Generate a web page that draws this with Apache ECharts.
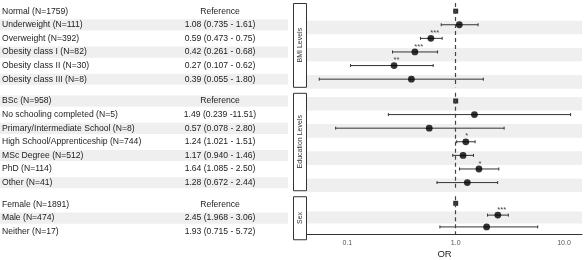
<!DOCTYPE html>
<html>
<head>
<meta charset="utf-8">
<script src="https://cdn.jsdelivr.net/npm/echarts@6/dist/echarts.min.js"></script>
<style>
  html, body { margin: 0; padding: 0; background: #fff; }
  #chart { width: 584px; height: 260px; }
</style>
</head>
<body>
<div id="chart"></div>
<script>
// === DATA ===
const panelNames = ['BMI Levels', 'Education Levels', 'Sex'];

const bmiLabels = ['Normal (N=1759)', 'Underweight (N=111)', 'Overweight (N=392)',
  'Obesity class I (N=82)', 'Obesity class II (N=30)', 'Obesity class III (N=8)'];
const bmiOR = [1, 1.08, 0.59, 0.42, 0.27, 0.39];
const bmiLow = [null, 0.735, 0.473, 0.261, 0.107, 0.055];
const bmiHigh = [null, 1.61, 0.75, 0.68, 0.62, 1.80];
const bmiText = ['Reference', '1.08 (0.735 - 1.61)', '0.59 (0.473 - 0.75)',
  '0.42 (0.261 - 0.68)', '0.27 (0.107 - 0.62)', '0.39 (0.055 - 1.80)'];
const bmiSig = ['', '', '***', '***', '**', ''];
const bmiStripe = [0, 1, 0, 1, 0, 1];

const eduLabels = ['BSc (N=958)', 'No schooling completed (N=5)', 'Primary/Intermediate School (N=8)',
  'High School/Apprenticeship (N=744)', 'MSc Degree (N=512)', 'PhD (N=114)', 'Other (N=41)'];
const eduOR = [1, 1.49, 0.57, 1.24, 1.17, 1.64, 1.28];
const eduLow = [null, 0.239, 0.078, 1.021, 0.940, 1.085, 0.672];
const eduHigh = [null, 11.51, 2.80, 1.51, 1.46, 2.50, 2.44];
const eduText = ['Reference', '1.49 (0.239 -11.51)', '0.57 (0.078 - 2.80)', '1.24 (1.021 - 1.51)',
  '1.17 (0.940 - 1.46)', '1.64 (1.085 - 2.50)', '1.28 (0.672 - 2.44)'];
const eduSig = ['', '', '', '*', '', '*', ''];
const eduStripe = [1, 0, 1, 0, 1, 0, 1];

const sexLabels = ['Female (N=1891)', 'Male (N=474)', 'Neither (N=17)'];
const sexOR = [1, 2.45, 1.93];
const sexLow = [null, 1.968, 0.715];
const sexHigh = [null, 3.06, 5.72];
const sexText = ['Reference', '2.45 (1.968 - 3.06)', '1.93 (0.715 - 5.72)'];
const sexSig = ['', '***', ''];
const sexStripe = [0, 1, 0];

const xTicks = [0.1, 1, 10];
const xTickLabels = ['0.1', '1.0', '10.0'];

// === LAYOUT ===
const FONT = '"Liberation Sans", Arial, sans-serif';
const UNIT = 13.6;         // px per row
const GAP = 5.5;           // gap between panels
const TOP = 3;
const TABLE_W = 288;
const PLOT_LEFT = 307;
const PLOT_RIGHT = 2;
const STRIP_X = 293.5;
const X_MIN = 0.0424;
const X_MAX = 14.66;

const panels = [
  { labels: bmiLabels, or: bmiOR, low: bmiLow, high: bmiHigh, text: bmiText, sig: bmiSig, stripe: bmiStripe },
  { labels: eduLabels, or: eduOR, low: eduLow, high: eduHigh, text: eduText, sig: eduSig, stripe: eduStripe },
  { labels: sexLabels, or: sexOR, low: sexLow, high: sexHigh, text: sexText, sig: sexSig, stripe: sexStripe }
];

let y0 = TOP;
panels.forEach((p, k) => {
  p.name = panelNames[k];
  p.top = y0;
  p.height = (p.labels.length + 0.2) * UNIT;
  y0 += p.height + GAP;
});

const chart = echarts.init(document.getElementById('chart'));

const grid = [], xAxis = [], yAxis = [], series = [], graphic = [];

// gray row bands, spanning the full grid width
function stripeSeries(gi, p, from, to) {
  return {
    type: 'custom', xAxisIndex: gi, yAxisIndex: gi, z: 1, silent: true,
    data: p.stripe.map((s, i) => [i, s]).filter(d => d[1]),
    renderItem: function (params, api) {
      const cs = params.coordSys;
      const a = api.coord([1, api.value(0) + from]);
      const b = api.coord([1, api.value(0) + to]);
      return {
        type: 'rect',
        shape: { x: cs.x, y: a[1], width: cs.width, height: b[1] - a[1] },
        style: { fill: '#efefef' }
      };
    }
  };
}

panels.forEach((p, k) => {
  const n = p.labels.length;
  const tg = 2 * k, pg = 2 * k + 1;
  const last = k === panels.length - 1;

  grid.push({ left: 0, width: TABLE_W, top: p.top, height: p.height });
  grid.push({ left: PLOT_LEFT, right: PLOT_RIGHT, top: p.top, height: p.height });

  xAxis.push({ type: 'value', gridIndex: tg, min: 0, max: TABLE_W, show: false });
  xAxis.push({
    type: 'log', logBase: 10, gridIndex: pg, min: X_MIN, max: X_MAX,
    show: true,
    name: last ? 'OR' : '', nameLocation: 'middle', nameGap: 15,
    nameTextStyle: { fontFamily: FONT, fontSize: 9.5, color: '#222' },
    axisLine: { show: last, onZero: false, lineStyle: { color: '#333', width: 1 } },
    axisTick: { show: false },
    splitLine: { show: false },
    axisLabel: {
      show: last, margin: 6, fontFamily: FONT, fontSize: 7, color: '#555',
      showMinLabel: false, showMaxLabel: false,
      formatter: function (v) {
        const idx = xTicks.findIndex(t => Math.abs(Math.log10(t) - Math.log10(v)) < 1e-6);
        return idx >= 0 ? xTickLabels[idx] : '';
      }
    }
  });
  [tg, pg].forEach(gi => yAxis.push({
    type: 'value', gridIndex: gi, min: -0.6, max: n - 0.4, inverse: true, show: false
  }));

  // table stripes + text
  series.push(stripeSeries(tg, p, -0.4, 0.42));
  series.push({
    type: 'custom', xAxisIndex: tg, yAxisIndex: tg, z: 2, silent: true,
    data: p.labels.map((l, i) => [i]),
    renderItem: function (params, api) {
      const i = api.value(0);
      const a = api.coord([2, i]);
      const b = api.coord([220, i]);
      const style = { fontFamily: FONT, fontSize: 8.6, fill: '#222', verticalAlign: 'middle' };
      return {
        type: 'group',
        children: [
          { type: 'text', x: a[0], y: a[1], style: Object.assign({ text: p.labels[i], align: 'left' }, style) },
          { type: 'text', x: b[0], y: b[1], style: Object.assign({ text: p.text[i], align: 'center' }, style) }
        ]
      };
    }
  });

  // plot stripes
  series.push(stripeSeries(pg, p, -0.3, 0.7));

  // reference line at OR = 1
  series.push({
    type: 'scatter', xAxisIndex: pg, yAxisIndex: pg, z: 2, data: [], silent: true,
    markLine: {
      silent: true, symbol: 'none', label: { show: false },
      lineStyle: { type: [4, 3], color: '#444', width: 1.2 },
      data: [{ xAxis: 1 }]
    }
  });

  // error bars + significance stars
  series.push({
    type: 'custom', xAxisIndex: pg, yAxisIndex: pg, z: 3, silent: true,
    data: p.low.map((l, i) => [i, l, p.high[i], p.or[i]]).filter(d => d[1] != null),
    renderItem: function (params, api) {
      const i = api.value(0);
      const lo = api.coord([api.value(1), i]);
      const hi = api.coord([api.value(2), i]);
      const pt = api.coord([api.value(3), i]);
      const c = 1.5;
      const ls = { stroke: '#333', lineWidth: 1 };
      const children = [
        { type: 'line', shape: { x1: lo[0], y1: lo[1], x2: hi[0], y2: hi[1] }, style: ls },
        { type: 'line', shape: { x1: lo[0], y1: lo[1] - c, x2: lo[0], y2: lo[1] + c }, style: ls },
        { type: 'line', shape: { x1: hi[0], y1: hi[1] - c, x2: hi[0], y2: hi[1] + c }, style: ls }
      ];
      const s = p.sig[i];
      if (s) {
        children.push({
          type: 'text', x: pt[0] - 0.5, y: pt[1] - 5.5,
          style: { text: s, fontFamily: FONT, fontSize: 7.5, fill: '#444', align: 'left', verticalAlign: 'middle' }
        });
      }
      return { type: 'group', children: children };
    }
  });

  // reference squares
  series.push({
    type: 'scatter', xAxisIndex: pg, yAxisIndex: pg, z: 4, silent: true,
    symbol: 'rect', symbolSize: 5,
    itemStyle: { color: '#000' },
    data: p.or.map((v, i) => [v, i]).filter((d, i) => p.low[i] == null)
  });

  // point estimates
  series.push({
    type: 'scatter', xAxisIndex: pg, yAxisIndex: pg, z: 4, silent: true,
    symbol: 'circle', symbolSize: 6.8,
    itemStyle: { color: '#000' },
    data: p.or.map((v, i) => [v, i]).filter((d, i) => p.low[i] != null)
  });

  // facet strip
  graphic.push({
    type: 'rect', silent: true,
    shape: { x: STRIP_X, y: p.top + 0.5, width: PLOT_LEFT - STRIP_X - 0.5, height: p.height - 0.5 },
    style: { fill: '#fff', stroke: '#333', lineWidth: 1 }
  });
  graphic.push({
    type: 'text', silent: true,
    x: (STRIP_X + PLOT_LEFT) / 2, y: p.top + p.height / 2, rotation: Math.PI / 2,
    style: { text: p.name, fontFamily: FONT, fontSize: 7, fill: '#333', align: 'center', verticalAlign: 'middle' }
  });
});

chart.setOption({
  animation: false,
  grid: grid,
  xAxis: xAxis,
  yAxis: yAxis,
  series: series,
  graphic: graphic
});
</script>
</body>
</html>
